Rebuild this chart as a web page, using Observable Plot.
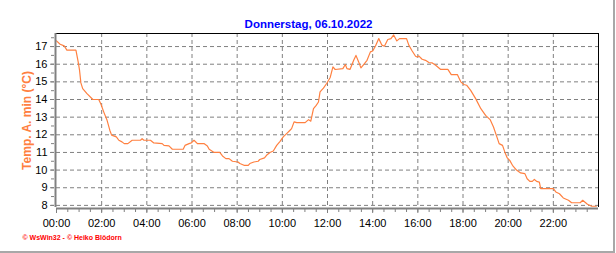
<!DOCTYPE html>
<html>
<head>
<meta charset="utf-8">
<script src="https://cdn.jsdelivr.net/npm/d3@7"></script>
<script src="https://cdn.jsdelivr.net/npm/@observablehq/plot@0.6"></script>
<style>
  html, body { margin: 0; padding: 0; background: #fff; }
  #wrap { position: relative; width: 616px; height: 253px; overflow: hidden; }
  #wrap svg { display: block; }
  .edgeR { position: absolute; left: 613px; top: 0; width: 2px; height: 253px; background: #a8a8a8; }
  .edgeB { position: absolute; left: 0; top: 251px; width: 615px; height: 2px; background: #a8a8a8; }
</style>
</head>
<body>
<div id="wrap"></div>
<script>
// ---- data (hours since midnight, temperature °C) ----
const hours = [
  0.00,0.16,0.34,0.46,0.86,0.96,1.02,1.08,1.16,1.35,1.61,1.87,1.97,2.09,2.24,2.36,2.44,2.65,2.76,2.90,
  3.00,3.16,3.35,3.72,3.79,3.87,4.16,4.31,4.68,4.76,4.98,5.13,5.61,5.69,5.87,5.97,6.09,6.24,6.53,6.68,
  6.76,6.98,7.23,7.35,7.50,7.64,7.79,8.04,8.12,8.30,8.49,8.56,8.74,8.93,9.00,9.21,9.30,9.45,9.60,9.75,
  9.90,10.04,10.19,10.34,10.41,10.52,10.64,11.01,11.16,11.26,11.38,11.50,11.60,11.67,11.82,11.97,12.12,12.24,12.34,12.68,
  12.79,12.86,13.00,13.16,13.26,13.38,13.48,13.60,13.75,13.90,14.00,14.12,14.27,14.41,14.52,14.67,14.81,14.93,15.07,15.19,
  15.50,15.60,15.75,15.90,15.97,16.04,16.19,16.34,16.49,16.64,16.79,17.00,17.33,17.48,17.75,17.90,18.04,18.16,18.34,18.56,
  18.79,19.00,19.20,19.35,19.50,19.60,19.75,19.85,19.96,20.07,20.19,20.37,20.55,20.74,20.84,20.96,21.07,21.16,21.26,21.38,
  21.44,22.00,22.11,22.27,22.44,22.67,22.81,23.19,23.30,23.51,23.70,23.90
];
const temps = [
  17.32,17.13,17.04,16.80,16.80,16.13,15.66,14.94,14.62,14.33,14.00,14.00,13.73,13.30,12.82,12.26,11.98,11.88,11.69,11.60,
  11.50,11.50,11.69,11.69,11.78,11.69,11.69,11.54,11.50,11.40,11.37,11.18,11.18,11.40,11.50,11.54,11.69,11.50,11.50,11.37,
  11.18,11.00,11.00,10.80,10.65,10.65,10.50,10.46,10.37,10.27,10.27,10.37,10.46,10.50,10.60,10.69,10.84,11.00,11.08,11.40,
  11.63,11.88,12.07,12.26,12.35,12.73,12.69,12.69,12.86,12.77,13.48,13.67,13.86,14.43,14.64,14.92,15.25,15.85,15.70,15.75,
  15.98,15.75,15.71,16.22,16.50,16.13,15.79,15.98,16.22,16.70,16.75,17.02,17.45,17.08,17.02,17.40,17.45,17.66,17.32,17.45,
  17.45,17.08,16.75,16.45,16.41,16.47,16.28,16.22,16.09,16.07,15.94,15.71,15.71,15.41,15.41,15.00,14.85,14.81,14.52,14.05,
  13.48,13.10,12.86,12.44,11.88,11.50,11.40,11.03,10.69,10.55,10.27,10.00,9.84,9.80,9.51,9.36,9.36,9.47,9.36,9.32,
  8.95,8.95,8.76,8.66,8.42,8.29,8.15,8.15,8.29,8.06,7.95,7.95
];
const xTickHours = [0,2,4,6,8,10,12,14,16,18,20,22];
const yTickValues = [8,9,10,11,12,13,14,15,16,17];
const titleText = "Donnerstag, 06.10.2022";
const yLabelText = "Temp. A. min (°C)";
const footerText = "© WsWin32 - © Heiko Blödorn";

const xDomain = [0, 24];
const yDomain = [7.88, 17.74];

const data = hours.map((h, i) => ({h, t: temps[i]}));
const fmtHour = h => String(h).padStart(2, "0") + ":00";
const minorX = d3.range(0, 24, 0.5);
const minorY = d3.range(8, 17.6, 0.5);
const gridGray = "#808080";

const chart = Plot.plot({
  width: 616,
  height: 253,
  marginLeft: 56,
  marginRight: 18,
  marginTop: 33,
  marginBottom: 46,
  style: {fontFamily: "'Liberation Sans', Arial, sans-serif", fontSize: "11px", background: "#fff", color: "#000", overflow: "visible"},
  x: {domain: xDomain, label: null},
  y: {domain: yDomain, label: null},
  marks: [
    Plot.gridY(yTickValues, {stroke: gridGray, strokeOpacity: 1, strokeDasharray: "4,3"}),
    Plot.gridX(xTickHours.filter(h => h > 0), {stroke: gridGray, strokeOpacity: 1, strokeDasharray: "4,3"}),
    Plot.ruleY([yDomain[1]], {stroke: "#000", strokeWidth: 1}),
    Plot.ruleX([xDomain[1]], {stroke: "#000", strokeWidth: 1}),
    Plot.line(data, {x: "h", y: "t", stroke: "#ff8040", strokeWidth: 1.2}),
    Plot.ruleX([xDomain[0]], {stroke: gridGray, strokeWidth: 2, dx: -1}),
    Plot.ruleY([yDomain[0]], {stroke: gridGray, strokeWidth: 2, dy: 1}),
    Plot.axisX(minorX, {tickSize: 3, stroke: gridGray, text: null, dy: 2, label: null}),
    Plot.axisX(xTickHours, {tickSize: 4, stroke: gridGray, tickFormat: fmtHour, tickPadding: 6, dy: 2, fill: "#000", label: null}),
    Plot.axisY(minorY, {tickSize: 3, stroke: gridGray, text: null, dx: -2, label: null}),
    Plot.axisY(yTickValues, {tickSize: 4, stroke: gridGray, tickPadding: 3, dx: -2, fill: "#000", label: null}),
    Plot.text([titleText], {frameAnchor: "top-left", dx: 252, dy: -14, textAnchor: "middle", fill: "#0000ff", fontWeight: "bold", fontSize: 11.5}),
    Plot.text([yLabelText], {frameAnchor: "left", dx: -29, rotate: -90, textAnchor: "middle", fill: "#ff8040", fontSize: 12, fontWeight: "bold"}),
    Plot.text([footerText], {frameAnchor: "bottom-left", dx: -34, dy: 32, textAnchor: "start", fill: "#ff0000", fontWeight: "bold", fontSize: 7})
  ]
});
const wrap = document.getElementById("wrap");
wrap.appendChild(chart);
const r = document.createElement("div"); r.className = "edgeR"; wrap.appendChild(r);
const b = document.createElement("div"); b.className = "edgeB"; wrap.appendChild(b);
</script>
</body>
</html>
